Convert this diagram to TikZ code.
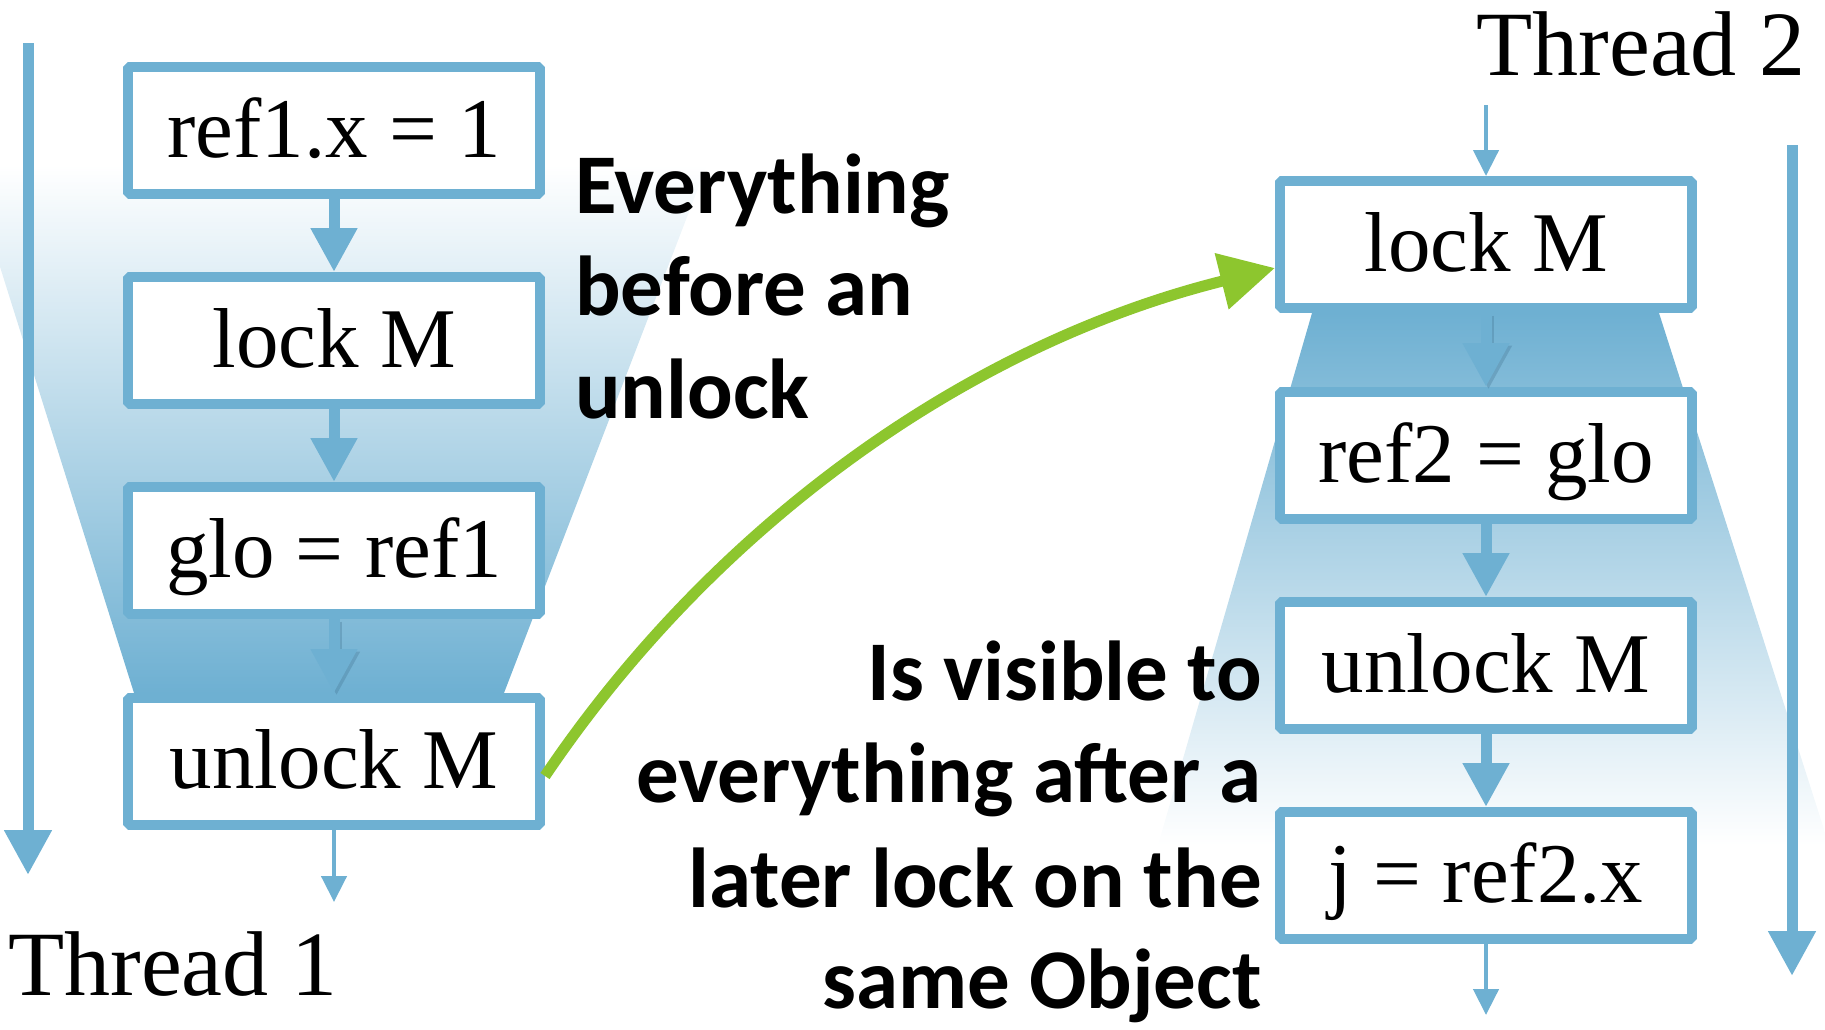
\documentclass[tikz,border=0pt]{standalone}
\usepackage{fontspec}
\setmainfont{Liberation Serif}
\newfontfamily\boldsans{Carlito}
\usetikzlibrary{arrows.meta}
\definecolor{tblue}{RGB}{110,176,210}
\definecolor{tgreen}{RGB}{141,198,46}
\definecolor{tshadow}{RGB}{70,120,150}
\begin{document}
\begin{tikzpicture}[x=1pt,y=-1pt,
  box/.style={draw=tblue, line width=10pt, fill=white, line join=bevel,
    minimum width=412pt, minimum height=127pt, inner sep=0pt,
    font=\fontsize{85}{100}\selectfont, text height=60pt, text depth=7pt},
  bigarr/.style={draw=tblue, line width=11pt, -{Triangle[length=44pt,width=44pt]}},
  thinarr/.style={draw=tblue, line width=4.5pt, -{Triangle[length=26pt,width=25pt]}},
  threadarr/.style={draw=tblue, line width=11pt, -{Triangle[length=45pt,width=45pt]}},
  sharr/.style={draw=tshadow, opacity=0.35, line width=11pt, -{Triangle[length=44pt,width=44pt]},
    transform canvas={shift={(2.5pt,-2.5pt)}}},
  greenarr/.style={draw=tgreen, line width=11pt, -{Triangle[length=55pt,width=55pt]}},
  lbl/.style={inner sep=0pt, font=\boldsans\bfseries\fontsize{85}{100}\selectfont},
  thr/.style={inner sep=0pt},
]
\useasboundingbox (0,0) rectangle (1825,1029);
\begin{scope}
  \clip (0,0) rectangle (1825,1029);
  \shade[top color=white, bottom color=tblue] (-32,165) -- (707,165) -- (504,693) -- (134,693) -- cycle;
  \shade[top color=tblue, bottom color=white] (1312,313) -- (1659,313) -- (1829,845) -- (1158,845) -- cycle;
\end{scope}
% thread lines
\coordinate (t1s) at (28,43);
\coordinate (t1e) at (28,875);
\coordinate (t2s) at (1792,145);
\coordinate (t2e) at (1792,976);
\draw[threadarr] (t1s) -- (t1e);
\draw[threadarr] (t2s) -- (t2e);
% boxes
\node[box] (a1) at (334,130.5) {ref1.x = 1};
\node[box] (a2) at (334,340.5) {lock M};
\node[box] (a3) at (334,550.5) {glo = ref1};
\node[box] (a4) at (334,761.5) {unlock M};
\node[box] (b1) at (1486,244.5) {lock M};
\node[box] (b2) at (1486,455.5) {ref2 = glo};
\node[box] (b3) at (1486,665.5) {unlock M};
\node[box] (b4) at (1486,875.5) {j = ref2.x};
% arrows between boxes
\draw[sharr] (a3.south) -- (a4.north);
\draw[sharr] (b1.south) -- (b2.north);
\draw[bigarr] (a1.south) -- (a2.north);
\draw[bigarr] (a2.south) -- (a3.north);
\draw[bigarr] (a3.south) -- (a4.north);
\draw[bigarr] (b1.south) -- (b2.north);
\draw[bigarr] (b2.south) -- (b3.north);
\draw[bigarr] (b3.south) -- (b4.north);
\coordinate (a5) at (334,902);
\coordinate (b0) at (1486,105);
\coordinate (b5) at (1486,1015);
\draw[thinarr] (a4.south) -- (a5);
\draw[thinarr] (b0) -- (b1.north);
\draw[thinarr] (b4.south) -- (b5);
% green arrow
\draw[greenarr] ([yshift=-14.5pt]a4.east) .. controls +(168,-249) and +(-310,77) .. ([yshift=-23.5pt]b1.west);
% thread labels
\node[thr, anchor=base west, font=\fontsize{92}{100}\selectfont] (th1) at (8,995) {Thread 1};
\node[thr, anchor=base east, font=\fontsize{92}{100}\selectfont] (th2) at (1806,75) {Thread 2};
% bold labels
\node[lbl, anchor=base west] (e1) at (575,213) {Everything};
\node[lbl, anchor=base west] (e2) at (575,315) {before an};
\node[lbl, anchor=base west] (e3) at (575,418) {unlock};
\node[lbl, anchor=base east] (v1) at (1262,700) {Is visible to};
\node[lbl, anchor=base east] (v2) at (1262,802) {everything after a};
\node[lbl, anchor=base east] (v3) at (1262,907) {later lock on the};
\node[lbl, anchor=base east] (v4) at (1262,1008) {same Object};
\end{tikzpicture}
\end{document}
